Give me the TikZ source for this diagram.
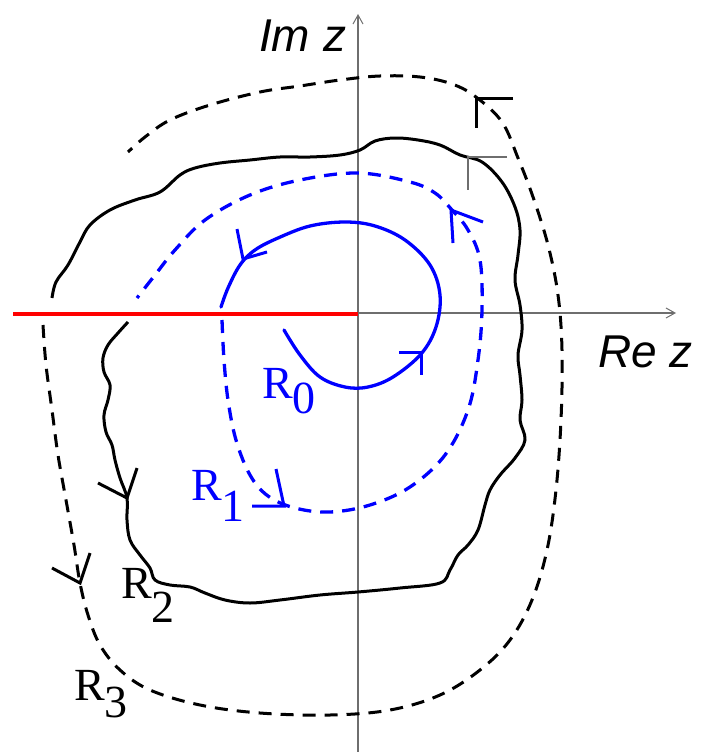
\documentclass[tikz,border=0pt]{standalone}
\usepackage{fontspec}
\setmainfont{Liberation Serif}
\newfontfamily\lsans{Liberation Sans}
\usetikzlibrary{arrows.meta}
\definecolor{pblue}{RGB}{0,0,255}
\definecolor{pred}{RGB}{255,0,0}
\definecolor{axgray}{RGB}{110,110,110}
\tikzset{
  axis/.style={draw=axgray,line width=1.3pt,-{Straight Barb[length=9pt,width=10pt,line width=1pt]}},
  cut/.style={draw=pred,line width=4pt},
  rzero/.style={draw=pblue,line width=3.3pt},
  rone/.style={draw=pblue,line width=3.3pt,dash pattern=on 13pt off 9pt},
  rtwo/.style={draw=black,line width=3pt},
  rthree/.style={draw=black,line width=3pt,dash pattern=on 13pt off 9pt},
  tip/.style={line width=3pt,line cap=butt,line join=miter},
  greytip/.style={draw=axgray,line width=1.3pt},
  rlab/.style={font=\fontsize{46}{46}\selectfont,inner sep=0pt,anchor=base west},
  axlab/.style={font=\lsans\itshape\fontsize{46}{46}\selectfont,inner sep=0pt,anchor=base west},
}
\begin{document}
\begin{tikzpicture}[x=1pt,y=-1pt]
\useasboundingbox (0,0) rectangle (702,752);
% axes
\coordinate (xs) at (13,313); \coordinate (xe) at (676,313);
\coordinate (ys) at (358,752); \coordinate (ye) at (358,14);
\draw[axis] (xs) -- (xe);
\draw[axis] (ys) -- (ye);
\coordinate (cs) at (13,314); \coordinate (ce) at (358,314);
\draw[cut] (cs) -- (ce);
% R0
\draw[rzero,line cap=round] plot[smooth,tension=0.6] coordinates {(284,330) (300,355) (320,377) (345,387) (368,387) (393,377) (421,354) (436,327) (440,295) (430,265) (405,240) (375,226) (345,222) (310,226) (278,238) (255,250) (240,265) (228,288) (221,307)};
\coordinate (a0v) at (243,259); \coordinate (a0a) at (237,229); \coordinate (a0b) at (267,252);
\draw[pblue,tip] (a0a) -- (a0v) -- (a0b);
\coordinate (b0v) at (421,352); \coordinate (b0a) at (399,352); \coordinate (b0b) at (421,375);
\draw[pblue,tip] (b0a) -- (b0v) -- (b0b);
% R1
\draw[rone] plot[smooth,tension=0.6] coordinates {(222,320) (224,360) (228,400) (236,440) (250,475) (268,496) (295,508) (330,512) (370,505) (410,487) (445,455) (468,410) (478,360) (482,310) (480,260) (468,230) (452,210) (435,193) (410,182) (358,173) (300,180) (250,195) (205,220) (175,250) (155,275) (137,298)};
\coordinate (a1v) at (284,506); \coordinate (a1a) at (252,506); \coordinate (a1b) at (276,469);
\draw[pblue,tip] (a1a) -- (a1v) -- (a1b);
\coordinate (b1v) at (451,210); \coordinate (b1a) at (453,243); \coordinate (b1b) at (483,222);
\draw[pblue,tip] (b1a) -- (b1v) -- (b1b);
% R2
\draw[rtwo] plot[smooth,tension=0.6] coordinates {(128,322) (118,333) (108,345) (103,358) (104,372) (110,385) (108,400) (104,415) (106,432) (112,445) (115,460) (120,478) (127,498) (127,520) (130,540) (140,555) (150,568) (155,580) (170,585) (190,587) (205,593) (225,600) (250,603) (280,600) (320,595) (358,592) (400,588) (440,583) (450,570) (458,555) (468,545) (478,530) (485,505) (490,490) (500,475) (515,458) (525,440) (520,420) (522,400) (520,375) (518,355) (522,330) (520,305) (515,280) (518,255) (520,230) (515,207) (502,182) (482,162) (460,155) (440,145) (418,140) (395,138) (375,141) (360,150) (340,155) (310,157) (280,157) (250,160) (220,163) (195,168) (180,175) (160,192) (135,200) (110,210) (90,225) (80,242) (68,265) (56,282) (52,298)};
\coordinate (a2v) at (127,498); \coordinate (a2a) at (98,483); \coordinate (a2b) at (137,468);
\draw[black,tip] (a2a) -- (a2v) -- (a2b);
\coordinate (g2v) at (468,157); \coordinate (g2a) at (507,157); \coordinate (g2b) at (468,190);
\draw[greytip] (g2a) -- (g2v) -- (g2b);
% R3
\draw[rthree] plot[smooth,tension=0.6] coordinates {(43,325) (46,365) (52,410) (58,455) (66,500) (74,545) (80,583) (88,615) (100,645) (120,670) (150,690) (200,705) (260,713) (330,715) (390,710) (440,695) (480,670) (510,640) (532,600) (547,550) (556,490) (561,420) (562,350) (558,295) (548,245) (533,197) (518,158) (502,122) (476,97) (452,84) (420,77) (380,76) (340,80) (300,86) (260,92) (210,105) (170,120) (145,137) (128,152)};
\coordinate (a3v) at (80,583); \coordinate (a3a) at (52,568); \coordinate (a3b) at (90,553);
\draw[black,tip] (a3a) -- (a3v) -- (a3b);
\coordinate (b3v) at (476,98); \coordinate (b3a) at (513,98); \coordinate (b3b) at (476,128);
\draw[black,tip] (b3a) -- (b3v) -- (b3b);
% labels
\node[axlab] (imz) at (259,52) {Im z};
\node[axlab] (rez) at (598,367) {Re z};
\node[rlab,text=pblue] (r0) at (262,398) {R\raisebox{-15pt}{0}};
\node[rlab,text=pblue] (r1) at (191,500) {R\raisebox{-21pt}{1}};
\node[rlab,text=black] (r2) at (121,598) {R\raisebox{-24pt}{2}};
\node[rlab,text=black] (r3) at (74,700) {R\raisebox{-17pt}{3}};
\end{tikzpicture}
\end{document}
